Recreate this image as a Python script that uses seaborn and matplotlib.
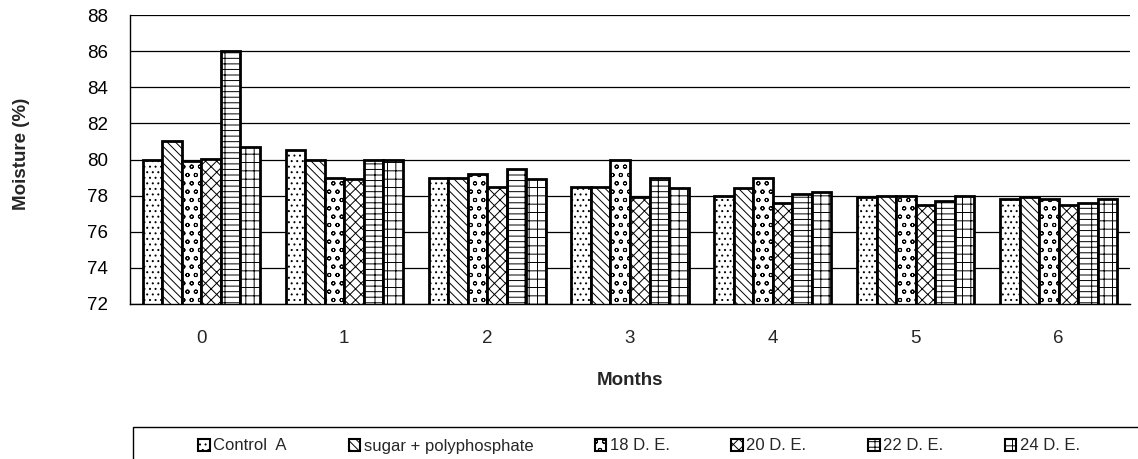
import matplotlib
matplotlib.use("Agg")
import matplotlib.pyplot as plt
import matplotlib.patches as mpatches
import seaborn as sns
import pandas as pd

months = ["0", "1", "2", "3", "4", "5", "6"]
treatments = ["Control  A", "sugar + polyphosphate", "18 D. E.", "20 D. E.", "22 D. E.", "24 D. E."]
control_a = [80.0, 80.5, 79.0, 78.5, 78.0, 77.9, 77.8]
sugar_poly = [81.0, 80.0, 79.0, 78.5, 78.4, 78.0, 77.9]
de18 = [79.9, 79.0, 79.2, 80.0, 79.0, 78.0, 77.8]
de20 = [80.05, 78.9, 78.5, 77.9, 77.6, 77.5, 77.5]
de22 = [86.0, 80.0, 79.5, 79.0, 78.1, 77.7, 77.6]
de24 = [80.7, 80.0, 78.9, 78.4, 78.2, 78.0, 77.8]
series = [control_a, sugar_poly, de18, de20, de22, de24]
hatches = ["...", "\\\\\\\\", "oo", "xxx", "---|", "++"]

rows = []
for t, vals in zip(treatments, series):
    for m, v in zip(months, vals):
        rows.append({"Months": m, "Moisture": v, "Treatment": t})
df = pd.DataFrame(rows)

sns.set_style("white")
plt.rcParams["font.family"] = ["Liberation Sans", "DejaVu Sans"]
plt.rcParams["hatch.linewidth"] = 0.7

fig = plt.figure(figsize=(11.38, 4.59), dpi=100)
ax = fig.add_axes([130 / 1138, 1 - 304 / 459, 1000 / 1138, 289 / 459])

sns.barplot(data=df, x="Months", y="Moisture", hue="Treatment",
            palette=["white"] * 6, edgecolor="black", linewidth=2,
            width=0.82, saturation=1, ax=ax, legend=False, errorbar=None)

for cont, h in zip(ax.containers, hatches):
    for p in cont:
        p.set_hatch(h)

ax.set_ylim(72, 88)
ax.set_xlim(-0.5, 6.5)
ax.set_yticks(range(72, 89, 2))
ax.yaxis.grid(True, color="black", linewidth=0.9)
ax.set_axisbelow(True)
for s in ["top", "right"]:
    ax.spines[s].set_visible(False)
ax.spines["left"].set_color("black")
ax.spines["bottom"].set_color("black")
ax.spines["left"].set_linewidth(1)
ax.spines["bottom"].set_linewidth(1)

ax.tick_params(axis="y", which="major", direction="inout", length=8, width=1,
               labelsize=13.5, colors="black", pad=12)
ax.tick_params(axis="x", which="major", length=0, labelsize=13.5, pad=19)
ax.set_xticks([i - 0.5 for i in range(8)], minor=True)
ax.tick_params(axis="x", which="minor", direction="out", length=6, width=1, color="black")

ax.set_xlabel("Months", fontsize=13.5, fontweight="bold", labelpad=18)
ax.set_ylabel("Moisture (%)", fontsize=13.5, fontweight="bold")
ax.yaxis.set_label_coords(-0.100, 0.52)

# legend frame
fig.patches.append(mpatches.Rectangle((133 / 1138, -0.05), 1.0, 0.05 + 1 - 427 / 459,
                                      transform=fig.transFigure, facecolor="white",
                                      edgecolor="black", linewidth=1, zorder=0))
leg = fig.legend(handles=ax.containers, labels=treatments, loc="center left",
                 bbox_to_anchor=(190 / 1138, 1 - 446 / 459), ncol=6, frameon=False,
                 fontsize=12, handlelength=0.7, handleheight=0.7, handletextpad=0.2,
                 columnspacing=3.7, borderpad=0)
for hnd in leg.legend_handles:
    hnd.set_linewidth(1.5)

fig.savefig("out.png", dpi=100)
